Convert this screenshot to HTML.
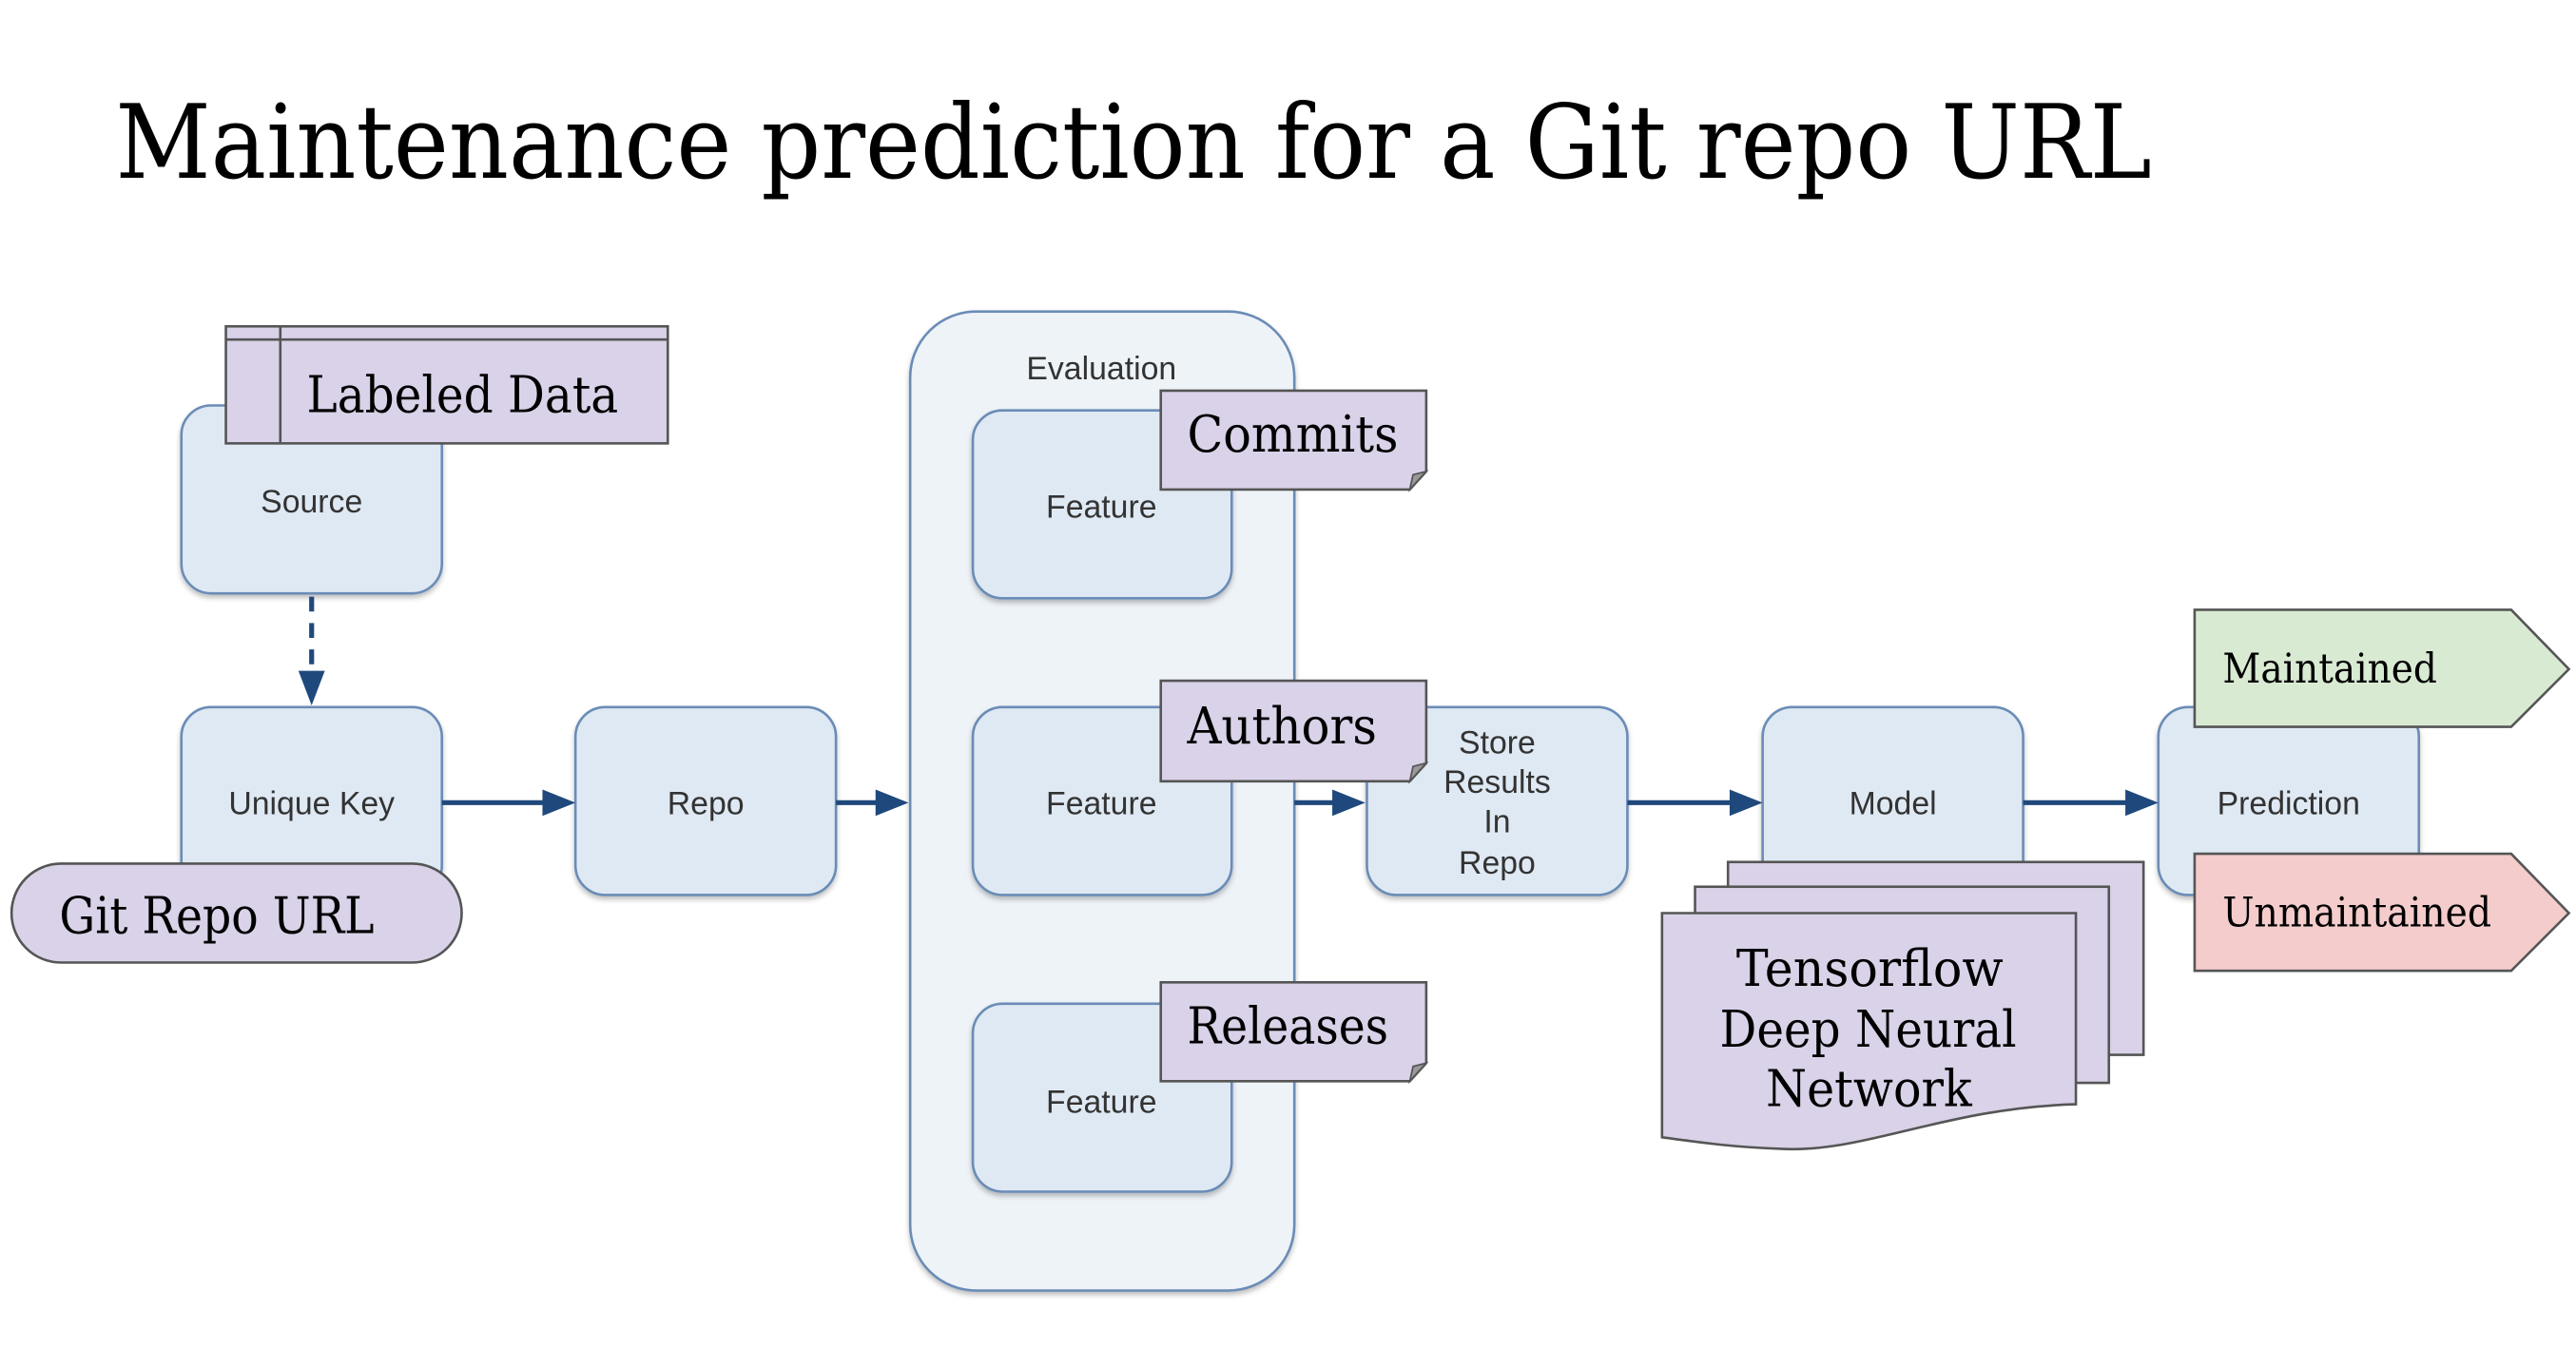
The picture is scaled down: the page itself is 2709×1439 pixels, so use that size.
<!DOCTYPE html>
<html><head><meta charset="utf-8"><style>
html,body{margin:0;padding:0;background:#fff;}
svg{display:block;}
.b{fill:#dfe9f3;stroke:#6a8cb6;stroke-width:1.5;filter:url(#sh);}
.bt{font-family:"Liberation Sans",sans-serif;font-size:19.5px;fill:#333;text-anchor:middle;}
.p{fill:#d9d2e8;stroke:#555;stroke-width:1.5;}
.st{font-family:"DejaVu Serif","Liberation Serif",serif;font-size:31px;fill:#000;}
.ar{stroke:#1f497d;stroke-width:3;fill:none;}
.ah{fill:#1f497d;}
</style></head><body>
<svg width="2709" height="1439" viewBox="0 0 1562.3 830" preserveAspectRatio="none" xmlns="http://www.w3.org/2000/svg">
<defs><filter id="sh" x="-10%" y="-10%" width="120%" height="130%"><feDropShadow dx="0" dy="2" stdDeviation="1.5" flood-color="#000" flood-opacity="0.25"/></filter></defs>
<text x="70" y="108" font-family="DejaVu Serif, Liberation Serif, serif" font-size="62" textLength="1235" lengthAdjust="spacingAndGlyphs">Maintenance prediction for a Git repo URL</text>

<rect x="552" y="189" width="233" height="594" rx="40" fill="#eef3f8" stroke="#6a8cb6" stroke-width="1.5" filter="url(#sh)"/>
<text x="668" y="230" class="bt">Evaluation</text>

<rect class="b" x="110" y="246" width="158" height="114" rx="18"/><text class="bt" x="189" y="311">Source</text>
<rect class="b" x="110" y="429" width="158" height="114" rx="18"/><text class="bt" x="189" y="494">Unique Key</text>
<rect class="b" x="349" y="429" width="158" height="114" rx="18"/><text class="bt" x="428" y="494">Repo</text>
<rect class="b" x="590" y="249" width="157" height="114" rx="18"/><text class="bt" x="668" y="314">Feature</text>
<rect class="b" x="590" y="429" width="157" height="114" rx="18"/><text class="bt" x="668" y="494">Feature</text>
<rect class="b" x="590" y="609" width="157" height="114" rx="18"/><text class="bt" x="668" y="675">Feature</text>
<rect class="b" x="829" y="429" width="158" height="114" rx="18"/>
<text class="bt" x="908" y="457">Store</text><text class="bt" x="908" y="481">Results</text><text class="bt" x="908" y="505">In</text><text class="bt" x="908" y="530">Repo</text>
<rect class="b" x="1069" y="429" width="158" height="114" rx="18"/><text class="bt" x="1148" y="494">Model</text>
<rect class="b" x="1309" y="429" width="158" height="114" rx="18"/><text class="bt" x="1388" y="494">Prediction</text>

<line class="ar" x1="189" y1="362" x2="189" y2="410" stroke-dasharray="9,7"/>
<polygon class="ah" points="181,407 197,407 189,428"/>
<line class="ar" x1="268" y1="487" x2="332" y2="487"/><polygon class="ah" points="329,479 349,487 329,495"/>
<line class="ar" x1="507" y1="487" x2="534" y2="487"/><polygon class="ah" points="531,479 551,487 531,495"/>
<line class="ar" x1="785" y1="487" x2="811" y2="487"/><polygon class="ah" points="808,479 828,487 808,495"/>
<line class="ar" x1="987" y1="487" x2="1052" y2="487"/><polygon class="ah" points="1049,479 1069,487 1049,495"/>
<line class="ar" x1="1227" y1="487" x2="1292" y2="487"/><polygon class="ah" points="1289,479 1309,487 1289,495"/>

<rect class="p" x="137" y="198" width="268" height="71"/>
<line x1="137" y1="206" x2="405" y2="206" stroke="#555" stroke-width="1.5"/>
<line x1="170" y1="198" x2="170" y2="269" stroke="#555" stroke-width="1.5"/>
<text class="st" x="186" y="250" textLength="189" lengthAdjust="spacingAndGlyphs">Labeled Data</text>

<rect class="p" x="7" y="524" width="273" height="60" rx="30"/>
<text class="st" x="36" y="566" textLength="191" lengthAdjust="spacingAndGlyphs">Git Repo URL</text>

<path class="p" d="M704,237 H865 V286 L855,297 H704 Z"/><path d="M855,297 L857,288 L865,286 Z" fill="#999" stroke="#555" stroke-width="1"/>
<text class="st" x="720" y="274" textLength="128" lengthAdjust="spacingAndGlyphs">Commits</text>
<path class="p" d="M704,413 H865 V463 L855,474 H704 Z"/><path d="M855,474 L857,465 L865,463 Z" fill="#999" stroke="#555" stroke-width="1"/>
<text class="st" x="720" y="451" textLength="115" lengthAdjust="spacingAndGlyphs">Authors</text>
<path class="p" d="M704,596 H865 V645 L855,656 H704 Z"/><path d="M855,656 L857,647 L865,645 Z" fill="#999" stroke="#555" stroke-width="1"/>
<text class="st" x="720" y="633" textLength="122" lengthAdjust="spacingAndGlyphs">Releases</text>

<rect class="p" x="1048" y="523" width="252" height="117"/>
<rect class="p" x="1028" y="538" width="251" height="119"/>
<path class="p" d="M1008,554 H1259 V670 C1180,672 1130,700 1080,697 C1050,696 1030,693 1008,690 Z"/>
<text class="st" x="1053" y="598" textLength="162" lengthAdjust="spacingAndGlyphs">Tensorflow</text>
<text class="st" x="1043" y="635" textLength="180" lengthAdjust="spacingAndGlyphs">Deep Neural</text>
<text class="st" x="1071" y="671" textLength="125" lengthAdjust="spacingAndGlyphs">Network</text>

<path d="M1331,370 H1523 L1558,406 L1523,441 H1331 Z" fill="#d9ead3" stroke="#555" stroke-width="1.5"/>
<text x="1348" y="414" font-family="DejaVu Serif, Liberation Serif, serif" font-size="25" textLength="130" lengthAdjust="spacingAndGlyphs">Maintained</text>
<path d="M1331,518 H1523 L1558,554 L1523,589 H1331 Z" fill="#f4cccc" stroke="#555" stroke-width="1.5"/>
<text x="1348" y="562" font-family="DejaVu Serif, Liberation Serif, serif" font-size="25" textLength="163" lengthAdjust="spacingAndGlyphs">Unmaintained</text>
</svg>
</body></html>
